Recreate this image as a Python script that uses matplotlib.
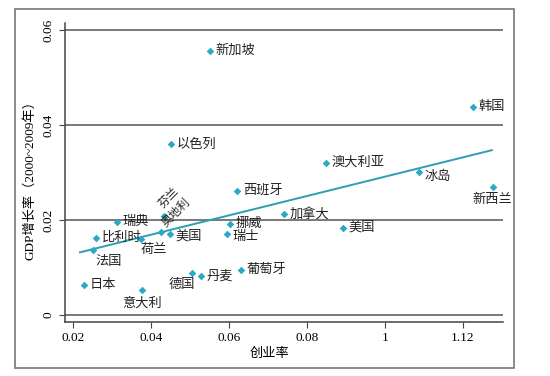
import matplotlib.pyplot as plt
from matplotlib.patches import Rectangle

plt.rcParams['font.family'] = ['Liberation Serif', 'Noto Sans CJK SC', 'DejaVu Sans']

# 国家, 创业率, GDP增长率
countries = ['新加坡', '韩国', '以色列', '澳大利亚', '冰岛', '新西兰', '西班牙', '加拿大',
             '美国', '挪威', '瑞士', '葡萄牙', '德国', '丹麦', '意大利', '日本', '法国',
             '比利时', '瑞典', '荷兰', '奥地利', '芬兰', '美国']
rate = [0.0551, 0.1226, 0.0451, 0.0848, 0.1088, 0.1276, 0.0621, 0.0740,
        0.0893, 0.0603, 0.0595, 0.0632, 0.0505, 0.0528, 0.0378, 0.0229, 0.0251,
        0.0259, 0.0312, 0.0374, 0.0426, 0.0434, 0.0448]
growth = [0.0556, 0.0438, 0.0359, 0.0321, 0.0302, 0.0269, 0.0262, 0.0213,
          0.0184, 0.0191, 0.0171, 0.0095, 0.0088, 0.0082, 0.0053, 0.0063, 0.0136,
          0.0163, 0.0195, 0.0161, 0.0175, 0.0208, 0.0171]

trend_x = [0.0218, 0.1274]
trend_y = [0.0132, 0.0347]

xticks = [0.02, 0.04, 0.06, 0.08, 0.10, 0.12]
xtick_labels = ['0.02', '0.04', '0.06', '0.08', '1', '1.12']
yticks = [0, 0.02, 0.04, 0.06]
ytick_labels = ['0', '0.02', '0.04', '0.06']

# label placement: (dx points, dy points, ha, va, rotation)
default = (4, 0, 'left', 'center', 0)
special = {
    4: (4, -4, 'left', 'center', 0),
    5: (0, -5, 'center', 'top', 0),
    16: (2, -4, 'left', 'top', 0),
    19: (0, -4, 'left', 'top', 0),
    14: (0, -5, 'center', 'top', 0),
    12: (2, -4, 'right', 'top', 0),
    20: (5, 2, 'left', 'bottom', 45),
    21: (0.5, 4, 'left', 'bottom', 45),
    22: (4, -2, 'left', 'center', 0),
    10: (4, -2, 'left', 'center', 0),
}

fig = plt.figure(figsize=(5.5, 3.76), dpi=100)
ax = fig.add_axes([65 / 550, 1 - 322 / 376, 438 / 550, 299 / 376])

for y in yticks:
    ax.axhline(y, color='#555555', lw=1.1, zorder=1)

ax.plot(trend_x, trend_y, color='#2b9fb3', lw=1.4, zorder=2)
ax.scatter(rate, growth, marker='D', s=15, color='#2aa9c4', zorder=3, linewidths=0)

for i, name in enumerate(countries):
    dx, dy, ha, va, rot = special.get(i, default)
    fs = 8.5 if rot else 9.5
    ax.annotate(name, (rate[i], growth[i]), xytext=(dx, dy), textcoords='offset points',
                ha=ha, va=va, rotation=rot, fontsize=fs, color='#222222',
                rotation_mode='anchor')

ax.set_xlim(0.01795, 0.13026)
ax.set_ylim(-0.00147, 0.06147)
ax.set_xticks(xticks)
ax.set_xticklabels(xtick_labels, fontsize=9.5)
ax.set_yticks(yticks)
ax.set_yticklabels(ytick_labels, fontsize=9.5, rotation=90, va='center')
ax.tick_params(direction='out', length=4, color='#444444')
for s in ['top', 'right']:
    ax.spines[s].set_visible(False)
for s in ['left', 'bottom']:
    ax.spines[s].set_color('#444444')
    ax.spines[s].set_linewidth(1.1)

fig.text(30 / 550, 1 - 177 / 376, 'GDP增长率（2000~2009年）', rotation=90,
         ha='center', va='center', fontsize=9.5)
fig.text(270 / 550, 1 - 354 / 376, '创业率', ha='center', va='center', fontsize=9.5)

fig.patches.append(Rectangle((15 / 550, 1 - 368 / 376), 499 / 550, 359 / 376,
                             transform=fig.transFigure, fill=False,
                             edgecolor='#777777', lw=1.2))

fig.savefig('out.png', dpi=100)
